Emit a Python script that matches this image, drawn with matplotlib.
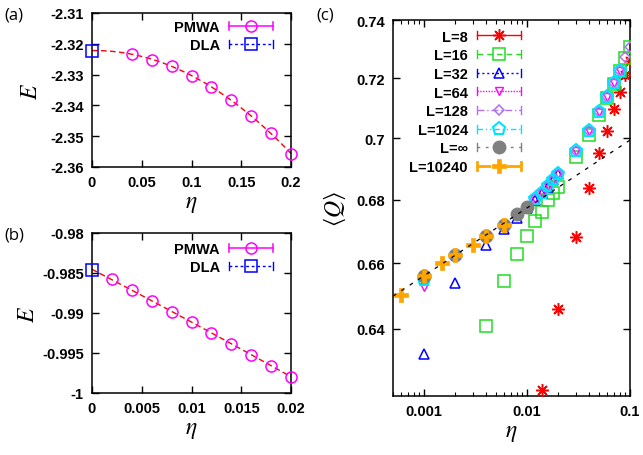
import numpy as np
import matplotlib
matplotlib.use("Agg")
import matplotlib.pyplot as plt
from matplotlib.lines import Line2D
from matplotlib.legend_handler import HandlerLine2D
from matplotlib.ticker import FixedLocator, NullLocator, FuncFormatter, LogLocator

plt.rcParams['font.family'] = ['Liberation Sans', 'DejaVu Sans']
plt.rcParams['mathtext.fontset'] = 'stix'
plt.rcParams['axes.unicode_minus'] = False

# ---------------- data ----------------
# panel (a)
a_pmwa_eta = [0.04, 0.06, 0.08, 0.10, 0.12, 0.14, 0.16, 0.18, 0.20]
a_pmwa_E = [-2.3233, -2.3251, -2.3273, -2.3303, -2.3341, -2.3383, -2.3434, -2.3491, -2.3557]
a_dla_eta = [0.0]
a_dla_E = [-2.3222]

# panel (b)
b_pmwa_eta = [0.002, 0.004, 0.006, 0.008, 0.010, 0.012, 0.014, 0.016, 0.018, 0.020]
b_pmwa_E = [-0.98579, -0.98713, -0.98846, -0.98983, -0.99113, -0.99246, -0.99388, -0.99521, -0.99658, -0.99796]
b_dla_eta = [0.0]
b_dla_E = [-0.98458]

# panel (c)
L8_eta = [0.014, 0.02, 0.03, 0.04, 0.05, 0.06, 0.07, 0.08, 0.09, 0.1]
L8_Q = [0.6217, 0.6460, 0.6682, 0.6838, 0.6952, 0.7025, 0.7097, 0.7155, 0.7211, 0.7260]

L16_eta = [0.004, 0.006, 0.008, 0.01, 0.012, 0.014, 0.016, 0.018, 0.02,
           0.03, 0.04, 0.05, 0.06, 0.07, 0.08, 0.09, 0.1]
L16_Q = [0.6409, 0.6545, 0.6627, 0.6684, 0.6732, 0.6762, 0.6799, 0.6822, 0.6841,
         0.6937, 0.7009, 0.7078, 0.7134, 0.7181, 0.7226, 0.7268, 0.7308]

L32_eta = [0.001, 0.002, 0.004, 0.006, 0.008, 0.01, 0.012, 0.014, 0.016, 0.018, 0.02]
L32_Q = [0.6325, 0.6540, 0.6658, 0.6708, 0.6743, 0.6775, 0.6798, 0.6820, 0.6841, 0.6862, 0.6882]

L64_eta = [0.001, 0.012, 0.014, 0.016, 0.018, 0.02, 0.03, 0.04, 0.05, 0.06, 0.07, 0.08]
L64_Q = [0.6525, 0.6801, 0.6823, 0.6843, 0.6864, 0.6884, 0.6958, 0.7025, 0.7085, 0.7137, 0.7184, 0.7226]

L128_eta = [0.001, 0.012, 0.014, 0.016, 0.018, 0.02, 0.03, 0.04, 0.05, 0.06, 0.07, 0.08, 0.09, 0.1]
L128_Q = [0.6562, 0.6801, 0.6823, 0.6843, 0.6864, 0.6884, 0.6958, 0.7025, 0.7085, 0.7137, 0.7184, 0.7226, 0.7271, 0.7308]

L1024_eta = [0.001, 0.012, 0.014, 0.016, 0.018, 0.02, 0.03, 0.04, 0.05, 0.06, 0.07, 0.08]
L1024_Q = [0.6547, 0.6801, 0.6823, 0.6843, 0.6864, 0.6884, 0.6958, 0.7025, 0.7085, 0.7137, 0.7184, 0.7226]

Linf_eta = [0.001, 0.002, 0.004, 0.006, 0.008, 0.01]
Linf_Q = [0.6560, 0.6624, 0.6685, 0.6721, 0.6754, 0.6777]

L10240_eta = [0.0006, 0.001, 0.0015, 0.002, 0.003, 0.004, 0.006]
L10240_Q = [0.6503, 0.6560, 0.6599, 0.6624, 0.6656, 0.6685, 0.6721]

# power-law fit Q = A * (eta/0.001)^B  (black dashed line)
fit_A = 0.6561
fit_B = 0.01386

# ---------------- helpers ----------------
class HandlerCaps(HandlerLine2D):
    def create_artists(self, legend, orig_handle, xdescent, ydescent, width, height, fontsize, trans):
        artists = super().create_artists(legend, orig_handle, xdescent, ydescent, width, height, fontsize, trans)
        line = artists[0]
        xd = line.get_xdata()
        y0 = line.get_ydata()[0]
        h = 0.28 * fontsize
        for x in (xd[0], xd[-1]):
            cap = Line2D([x, x], [y0 - h, y0 + h], color=orig_handle.get_color(),
                         lw=max(orig_handle.get_linewidth(), 1.0))
            cap.set_transform(trans)
            artists.append(cap)
        return artists

fmt = FuncFormatter(lambda v, p: ('%g' % v))

def style_axes(ax):
    for s in ax.spines.values():
        s.set_linewidth(1.1)
    ax.tick_params(direction='in', top=True, right=True, length=5, width=1.0, pad=6)
    ax.xaxis.set_major_formatter(fmt)
    ax.yaxis.set_major_formatter(fmt)

W, H = 643, 456
fig = plt.figure(figsize=(W / 100, H / 100), dpi=100)

def px_axes(l, r, t, b):
    return fig.add_axes([l / W, 1 - b / H, (r - l) / W, (b - t) / H])

label_kw = dict(fontsize=17)
leg_kw = dict(frameon=False, markerfirst=False, numpoints=1, handlelength=3.05,
              handletextpad=0.6, borderpad=0, borderaxespad=0,
              prop=dict(family='Liberation Sans', weight='bold', size=10.5),
              handler_map={Line2D: HandlerCaps()})

# ---------------- panel (a) ----------------
axa = px_axes(92, 291, 14, 168)
all_eta = np.array(a_dla_eta + a_pmwa_eta)
all_E = np.array(a_dla_E + a_pmwa_E)
coef = np.polyfit(all_eta, all_E, 2)
xx = np.linspace(0, 0.2, 200)
axa.plot(xx, np.polyval(coef, xx), color='red', ls=(0, (4, 2.5)), lw=1.0, zorder=1)
axa.plot(a_pmwa_eta, a_pmwa_E, ls='none', marker='o', ms=8, mfc='none', mec='#ff00ff', mew=1.1, zorder=3, clip_on=False)
axa.plot(a_dla_eta, a_dla_E, ls='none', marker='s', ms=8, mfc='none', mec='#0000ff', mew=1.1, zorder=3, clip_on=False)
axa.set_xlim(0, 0.2)
axa.set_ylim(-2.36, -2.31)
axa.xaxis.set_major_locator(FixedLocator([0, 0.05, 0.1, 0.15, 0.2]))
axa.yaxis.set_major_locator(FixedLocator([-2.36, -2.35, -2.34, -2.33, -2.32, -2.31]))
style_axes(axa)
axa.set_xlabel(r'$\eta$', **label_kw, labelpad=2)
axa.set_ylabel(r'$E$', **label_kw, labelpad=6)

h_pmwa = Line2D([], [], color='#ff00ff', ls='-', lw=1.1, marker='o', ms=8, mfc='none', mec='#ff00ff', mew=1.1)
h_dla = Line2D([], [], color='#0000ff', ls=(0, (2, 2)), lw=1.0, marker='s', ms=8, mfc='none', mec='#0000ff', mew=1.1)

axa.legend([h_pmwa, h_dla], ['PMWA', 'DLA'], loc='upper right',
           bbox_to_anchor=((273 - 92) / 199, 1 - (21.5 - 14) / 154), labelspacing=0.24, **leg_kw)

# ---------------- panel (b) ----------------
axb = px_axes(92, 291, 234, 394)
all_eta = np.array(b_dla_eta + b_pmwa_eta)
all_E = np.array(b_dla_E + b_pmwa_E)
coef = np.polyfit(all_eta, all_E, 2)
xx = np.linspace(0, 0.02, 200)
axb.plot(xx, np.polyval(coef, xx), color='red', ls=(0, (4, 2.5)), lw=1.0, zorder=1)
axb.plot(b_pmwa_eta, b_pmwa_E, ls='none', marker='o', ms=8, mfc='none', mec='#ff00ff', mew=1.1, zorder=3, clip_on=False)
axb.plot(b_dla_eta, b_dla_E, ls='none', marker='s', ms=8, mfc='none', mec='#0000ff', mew=1.1, zorder=3, clip_on=False)
axb.set_xlim(0, 0.02)
axb.set_ylim(-1.0, -0.98)
axb.xaxis.set_major_locator(FixedLocator([0, 0.005, 0.01, 0.015, 0.02]))
axb.yaxis.set_major_locator(FixedLocator([-1.0, -0.995, -0.99, -0.985, -0.98]))
style_axes(axb)
axb.set_xlabel(r'$\eta$', **label_kw, labelpad=2)
axb.set_ylabel(r'$E$', **label_kw, labelpad=2)
axb.legend([h_pmwa, h_dla], ['PMWA', 'DLA'], loc='upper right',
           bbox_to_anchor=((273 - 92) / 199, 1 - (243.5 - 234) / 160), labelspacing=0.24, **leg_kw)

# ---------------- panel (c) ----------------
axc = px_axes(393, 630, 21, 397)
axc.set_xscale('log')
axc.set_yscale('log')

series = [
    ('L=8', L8_eta, L8_Q, dict(color='#ff0000', ls='-', marker=(8, 2, 0), ms=9, mfc='#ff0000', mec='#ff0000', mew=1.1)),
    ('L=16', L16_eta, L16_Q, dict(color='#22dd22', ls=(0, (4, 3)), marker='s', ms=8.5, mfc='none', mec='#22dd22', mew=1.1)),
    ('L=32', L32_eta, L32_Q, dict(color='#0000ff', ls=(0, (1.5, 2)), marker='^', ms=7, mfc='none', mec='#0000ff', mew=1.1)),
    ('L=64', L64_eta, L64_Q, dict(color='#ff00ff', ls=(0, (1, 1)), marker='v', ms=5.5, mfc='none', mec='#ff00ff', mew=1.0)),
    ('L=128', L128_eta, L128_Q, dict(color='#b070f0', ls=(0, (5, 2, 1, 2)), marker='D', ms=5.5, mfc='none', mec='#b070f0', mew=1.1)),
    ('L=1024', L1024_eta, L1024_Q, dict(color='#00e5ff', ls=(0, (4, 2, 1, 2, 1, 2)), marker='p', ms=9.5, mfc='none', mec='#00e5ff', mew=1.5)),
    ('L=\u221e', Linf_eta, Linf_Q, dict(color='#808080', ls=(0, (2, 4)), marker='o', ms=9, mfc='#808080', mec='#808080', mew=1.0)),
    ('L=10240', L10240_eta, L10240_Q, dict(color='#ffa500', ls=(0, (5, 2, 1.5, 2)), lw=2.0, marker='P', ms=10, mfc='#ffa500', mec='#ffa500', mew=0.5)),
]

handles, labels = [], []
for i, (lab, x, y, st) in enumerate(series):
    st = dict(st)
    ls = st.pop('ls')
    lw = st.pop('lw', 1.0)
    axc.plot(x, y, ls='none', zorder=3 + i, **st)
    handles.append(Line2D([], [], ls=ls, lw=lw, **st))
    labels.append(lab)

xx = np.logspace(np.log10(0.0005), np.log10(0.1), 100)
axc.plot(xx, fit_A * (xx / 0.001) ** fit_B, color='black', ls=(0, (3, 5)), lw=0.9, zorder=20)

axc.set_xlim(0.0005, 0.1)
axc.set_ylim(0.62, 0.74)
axc.xaxis.set_major_locator(FixedLocator([0.001, 0.01, 0.1]))
axc.xaxis.set_minor_locator(LogLocator(base=10, subs=np.arange(2, 10)))
axc.xaxis.set_minor_formatter(FuncFormatter(lambda v, p: ''))
axc.yaxis.set_major_locator(FixedLocator([0.64, 0.66, 0.68, 0.7, 0.72, 0.74]))
axc.yaxis.set_minor_locator(NullLocator())
style_axes(axc)
axc.tick_params(which='minor', direction='in', top=True, length=3, width=0.8)
axc.set_xlabel(r'$\eta$', **label_kw, labelpad=2)
axc.set_ylabel(r'$\langle Q\rangle$', **label_kw, labelpad=6)

axc.legend(handles, labels, loc='upper right',
           bbox_to_anchor=((521 - 393) / 237, 1 - (30.5 - 21) / 376),
           labelspacing=0.32, **leg_kw)

for ax in (axa, axb, axc):
    for lab in ax.get_xticklabels() + ax.get_yticklabels():
        lab.set_fontfamily('Liberation Sans')
        lab.set_fontweight('bold')
        lab.set_fontsize(10.5)

# panel letters
fig.text(4 / W, 1 - 16 / H, '(a)', fontsize=12, family='Open Sans', va='center', ha='left')
fig.text(4 / W, 1 - 236 / H, '(b)', fontsize=12, family='Open Sans', va='center', ha='left')
fig.text(316 / W, 1 - 16 / H, '(c)', fontsize=12, family='Open Sans', va='center', ha='left')

fig.savefig('out.png', dpi=100)
